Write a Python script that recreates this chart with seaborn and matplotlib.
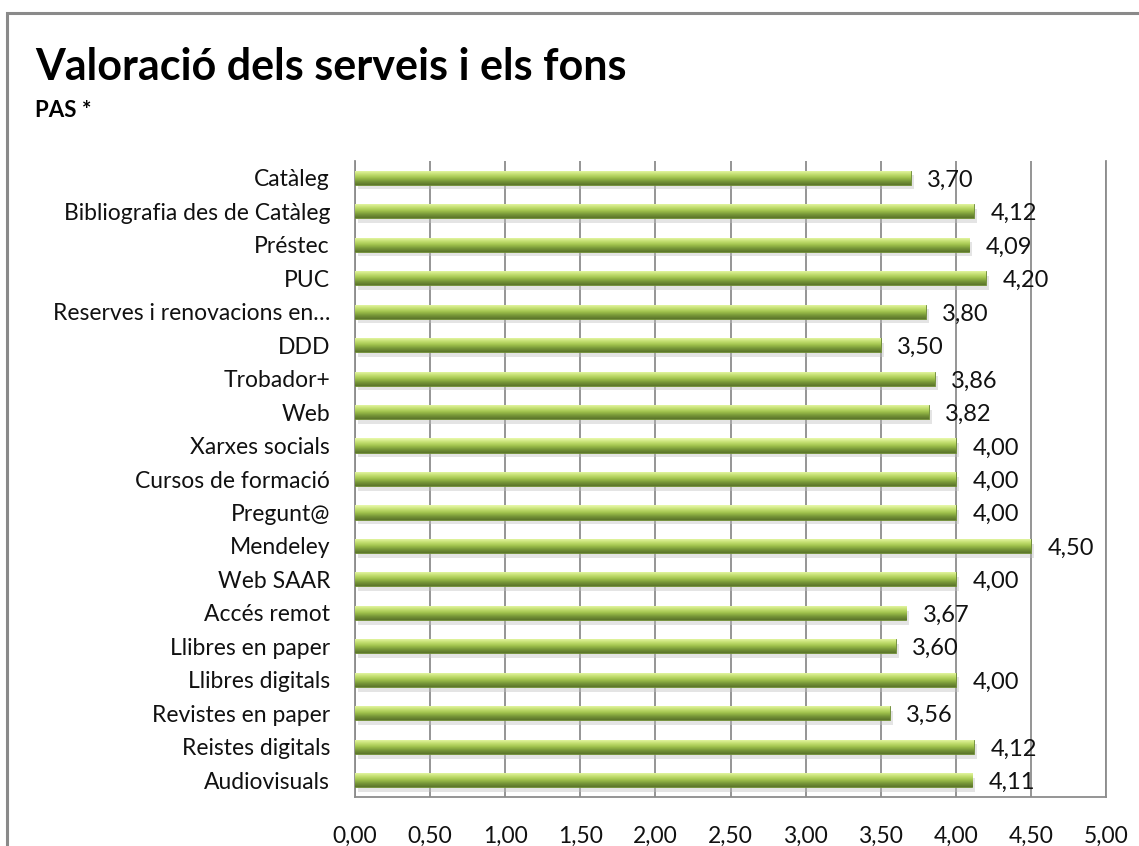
import matplotlib
matplotlib.use("Agg")
import matplotlib.pyplot as plt
import seaborn as sns
import numpy as np
import pandas as pd
from matplotlib.colors import LinearSegmentedColormap
from matplotlib.patches import Rectangle

# ==========================
#  DATA
# ==========================
serveis = [
    "Catàleg", "Bibliografia des de Catàleg", "Préstec", "PUC",
    "Reserves i renovacions en…", "DDD", "Trobador+", "Web",
    "Xarxes socials", "Cursos de formació", "Pregunt@", "Mendeley",
    "Web SAAR", "Accés remot", "Llibres en paper", "Llibres digitals",
    "Revistes en paper", "Reistes digitals", "Audiovisuals",
]
valoracio = [
    3.70, 4.12, 4.09, 4.20, 3.80, 3.50, 3.86, 3.82, 4.00, 4.00,
    4.00, 4.50, 4.00, 3.67, 3.60, 4.00, 3.56, 4.12, 4.11,
]
x_ticks = [0, 0.5, 1, 1.5, 2, 2.5, 3, 3.5, 4, 4.5, 5]

df = pd.DataFrame({"Servei": serveis, "Valoracio": valoracio})

sns.set_style("white")
plt.rcParams["font.family"] = ["Lato", "DejaVu Sans"]
plt.rcParams["text.color"] = "black"

fig = plt.figure(figsize=(11.39, 8.46), dpi=100)
ax = fig.add_axes([355 / 1139, 1 - 797 / 846, 751 / 1139, 636 / 846])

sns.barplot(data=df, x="Valoracio", y="Servei", orient="h", width=0.42,
            color="#9bbb59", ax=ax, zorder=3)

# fake the excel 3D look: vertical gradient clipped to each bar
grad = LinearSegmentedColormap.from_list(
    "bar3d", ["#eafaae", "#c8e276", "#a2c44e", "#789838", "#5a742b"])
g = np.linspace(0, 1, 64).reshape(-1, 1)
for p in ax.patches:
    x0, y0 = p.get_x(), p.get_y()
    w, h = p.get_width(), p.get_height()
    # soft shadow under the bar
    ax.add_patch(Rectangle((x0 + 0.02, y0 + 0.14), w, h, color="#bdbdbd",
                           alpha=0.4, lw=0, zorder=2))
    im = ax.imshow(g, cmap=grad, aspect="auto", extent=(x0, x0 + w, y0 + h, y0),
                   zorder=4, interpolation="bicubic")
    im.set_clip_path(p)
    p.set_edgecolor("#6b8a30")
    p.set_linewidth(0.6)

for i, v in enumerate(valoracio):
    ax.text(v + 0.11, i + 0.07, f"{v:.2f}".replace(".", ","),
            va="center", ha="left", fontsize=17, color="#111111", zorder=5)

ax.set_xlim(0, 5)
ax.set_ylim(len(serveis) - 0.5, -0.5)
ax.set_xticks(x_ticks)
ax.set_xticklabels([f"{t:.2f}".replace(".", ",") for t in x_ticks])
ax.xaxis.grid(True, color="#8c8c8c", linewidth=1.3, zorder=0)
ax.set_axisbelow(True)
ax.set_xlabel("")
ax.set_ylabel("")
ax.tick_params(axis="x", length=0, pad=21, labelsize=16.5, colors="#111111")
ax.tick_params(axis="y", length=0, pad=18, labelsize=16.5, colors="#111111")

for side in ["left", "bottom", "right"]:
    ax.spines[side].set_color("#8c8c8c")
    ax.spines[side].set_linewidth(1.3)
ax.spines["top"].set_visible(False)

# chart border and titles
fig.patches.append(Rectangle((7 / 1139, -0.1), 1.2, 1 - 13 / 846 + 0.1,
                             transform=fig.transFigure, fill=False,
                             edgecolor="#8a8a8a", linewidth=2.2))
fig.text(35 / 1139, 1 - 80 / 846, "Valoració dels serveis i els fons",
         fontsize=31, fontweight="bold", ha="left", va="baseline")
fig.text(35 / 1139, 1 - 117 / 846, "PAS *",
         fontsize=16, fontweight="bold", ha="left", va="baseline")

plt.savefig("out.png", dpi=100)
